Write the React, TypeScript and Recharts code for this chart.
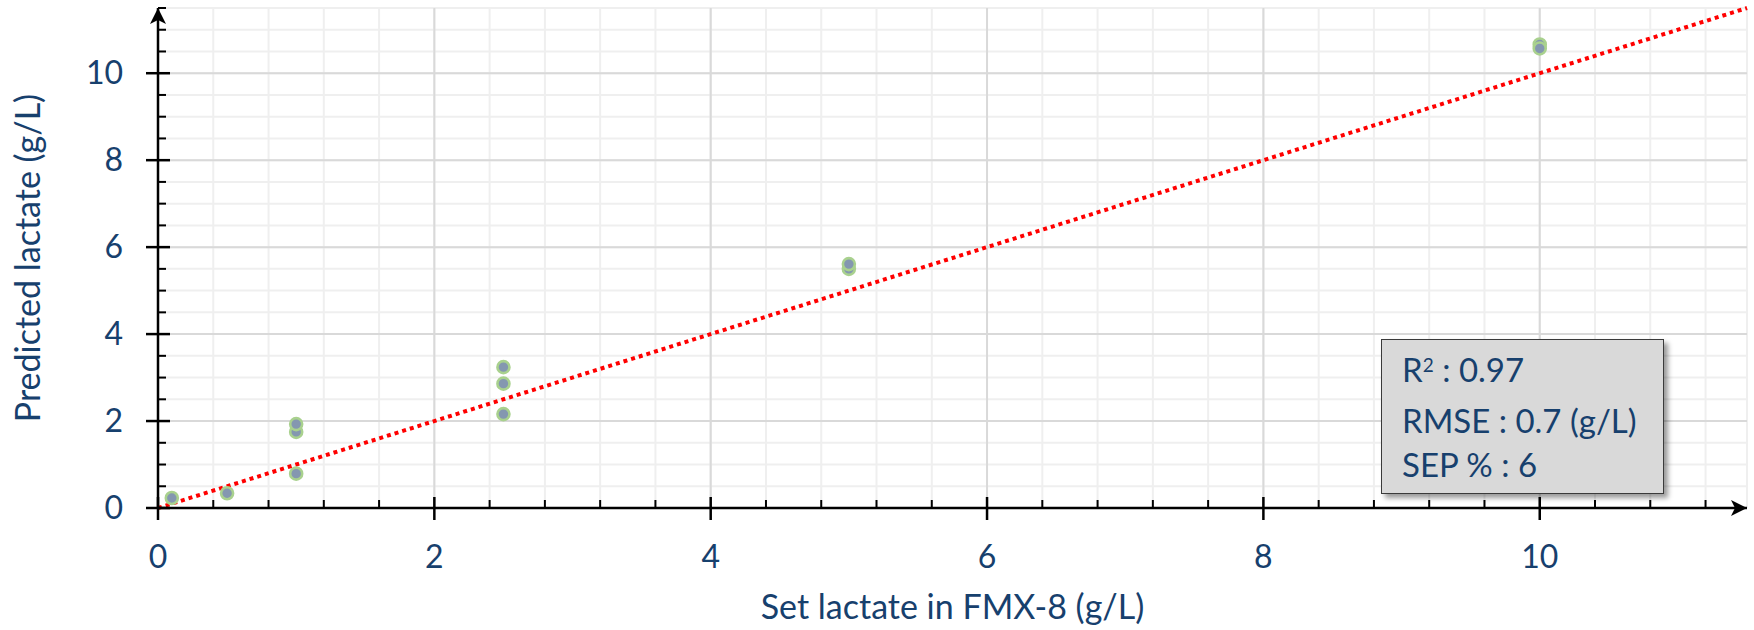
import React from 'react';
import {
  ScatterChart,
  Scatter,
  XAxis,
  YAxis,
  CartesianGrid,
  ReferenceLine,
  Label,
} from 'recharts';

// set lactate (g/L) vs predicted lactate (g/L)
const setLactate = [0.1, 0.5, 1, 1, 1, 2.5, 2.5, 2.5, 5, 5, 10, 10];
const predictedLactate = [0.23, 0.34, 0.79, 1.75, 1.93, 2.16, 2.86, 3.24, 5.5, 5.61, 10.66, 10.57];

const xMajorTicks = [0, 2, 4, 6, 8, 10];
const yMajorTicks = [0, 2, 4, 6, 8, 10];
const X_MINOR_STEP = 0.4;
const Y_MINOR_STEP = 0.5;
const AXIS_MAX = 11.5;

const fitLine = [
  { x: 0, y: 0 },
  { x: AXIS_MAX, y: AXIS_MAX },
];

const stats = ['0.97', '0.7 (g/L)', '6'];

const TEXT_COLOR = '#17406D';
const FONT = 'Lato, "Open Sans", sans-serif';

const points = setLactate.map((x, i) => ({ x, y: predictedLactate[i] }));

const minorTicks = (step: number, max: number) => {
  const out: number[] = [];
  for (let k = 0; k * step <= max + 1e-9; k++) out.push(Math.round(k * step * 100) / 100);
  return out;
};
const xTicks = minorTicks(X_MINOR_STEP, AXIS_MAX);
const yTicks = minorTicks(Y_MINOR_STEP, AXIS_MAX);

const isMajor = (v: number, majors: number[]) => majors.some((m) => Math.abs(m - v) < 1e-6);

const XTick = (props: any) => {
  const { x, y, payload } = props;
  const v = payload.value;
  if (isMajor(v, xMajorTicks)) {
    return (
      <g>
        <line x1={x} x2={x} y1={y - 11} y2={y + 12} stroke="#000" strokeWidth={2.5} />
        <text x={x} y={y + 60} textAnchor="middle" fill={TEXT_COLOR} fontSize={32} fontFamily={FONT}>
          {v}
        </text>
      </g>
    );
  }
  return <line x1={x} x2={x} y1={y - 8} y2={y} stroke="#000" strokeWidth={2} />;
};

const YTick = (props: any) => {
  const { x, y, payload } = props;
  const v = payload.value;
  if (isMajor(v, yMajorTicks)) {
    return (
      <g>
        <line x1={x - 12} x2={x + 12} y1={y} y2={y} stroke="#000" strokeWidth={2.5} />
        <text x={x - 35} y={y + 11} textAnchor="end" fill={TEXT_COLOR} fontSize={32} fontFamily={FONT}>
          {v}
        </text>
      </g>
    );
  }
  return <line x1={x} x2={x + 8} y1={y} y2={y} stroke="#000" strokeWidth={2} />;
};

const Dot = (props: any) => {
  const { cx, cy } = props;
  return <circle cx={cx} cy={cy} r={6} fill="#8497B0" stroke="#A9D18E" strokeWidth={2.6} />;
};

const App: React.FC = () => {
  return (
    <div style={{ position: 'absolute', left: 0, top: 0, width: 1754, height: 630, background: '#fff' }}>
      <ScatterChart width={1754} height={630} margin={{ top: 8, right: 7, left: 98, bottom: 42 }}>
        <defs>
          <marker
            id="axisArrow"
            viewBox="0 0 16 16"
            refX={16}
            refY={8}
            markerWidth={16}
            markerHeight={16}
            markerUnits="userSpaceOnUse"
            orient="auto-start-reverse"
          >
            <path d="M0,0 L16,8 L0,16 L4,8 Z" fill="#000" />
          </marker>
        </defs>
        <CartesianGrid stroke="#EFEFEF" strokeWidth={2} />
        {xMajorTicks.slice(1).map((v) => (
          <ReferenceLine key={'gx' + v} x={v} stroke="#D9D9D9" strokeWidth={2} />
        ))}
        {yMajorTicks.slice(1).map((v) => (
          <ReferenceLine key={'gy' + v} y={v} stroke="#D9D9D9" strokeWidth={2} />
        ))}
        <XAxis
          type="number"
          dataKey="x"
          domain={[0, AXIS_MAX]}
          ticks={xTicks}
          interval={0}
          height={80}
          tickSize={0}
          tickMargin={0}
          tickLine={false}
          tick={<XTick />}
          axisLine={{ stroke: '#000', strokeWidth: 2.5, markerEnd: 'url(#axisArrow)' }}
        >
          <Label
            content={(p: any) => {
              const vb = p.viewBox;
              return (
                <text
                  x={vb.x + vb.width / 2}
                  y={619}
                  textAnchor="middle"
                  fill={TEXT_COLOR}
                  fontSize={34}
                  fontFamily={FONT}
                >
                  Set lactate in FMX-8 (g/L)
                </text>
              );
            }}
          />
        </XAxis>
        <YAxis
          type="number"
          dataKey="y"
          domain={[0, AXIS_MAX]}
          ticks={yTicks}
          interval={0}
          width={60}
          tickSize={0}
          tickMargin={0}
          tickLine={false}
          tick={<YTick />}
          axisLine={{ stroke: '#000', strokeWidth: 2.5, markerStart: 'url(#axisArrow)' }}
        >
          <Label
            content={(p: any) => {
              const vb = p.viewBox;
              const cy = vb.y + vb.height / 2;
              return (
                <text
                  x={40}
                  y={cy}
                  transform={`rotate(-90 40 ${cy})`}
                  textAnchor="middle"
                  fill={TEXT_COLOR}
                  fontSize={34}
                  fontFamily={FONT}
                >
                  Predicted lactate (g/L)
                </text>
              );
            }}
          />
        </YAxis>
        <Scatter data={points} shape={<Dot />} isAnimationActive={false} />
        <ReferenceLine
          segment={fitLine}
          stroke="#FF0000"
          strokeWidth={4}
          strokeDasharray="4 4"
        />
      </ScatterChart>
      <div
        style={{
          position: 'absolute',
          left: 1381,
          top: 339,
          width: 283,
          height: 155,
          boxSizing: 'border-box',
          background: '#D9D9D9',
          border: '1.5px solid #3A3A3A',
          boxShadow: '4px 4px 5px rgba(0,0,0,0.4)',
          padding: '7px 0 0 20px',
          fontFamily: FONT,
          fontSize: 33,
          lineHeight: '44.5px',
          color: TEXT_COLOR,
        }}
      >
        <div>
          R<span style={{ fontSize: 19, position: 'relative', top: -10 }}>2</span> : {stats[0]}
        </div>
        <div>RMSE : {stats[1]}</div>
        <div>SEP % : {stats[2]}</div>
      </div>
    </div>
  );
};

export default App;
